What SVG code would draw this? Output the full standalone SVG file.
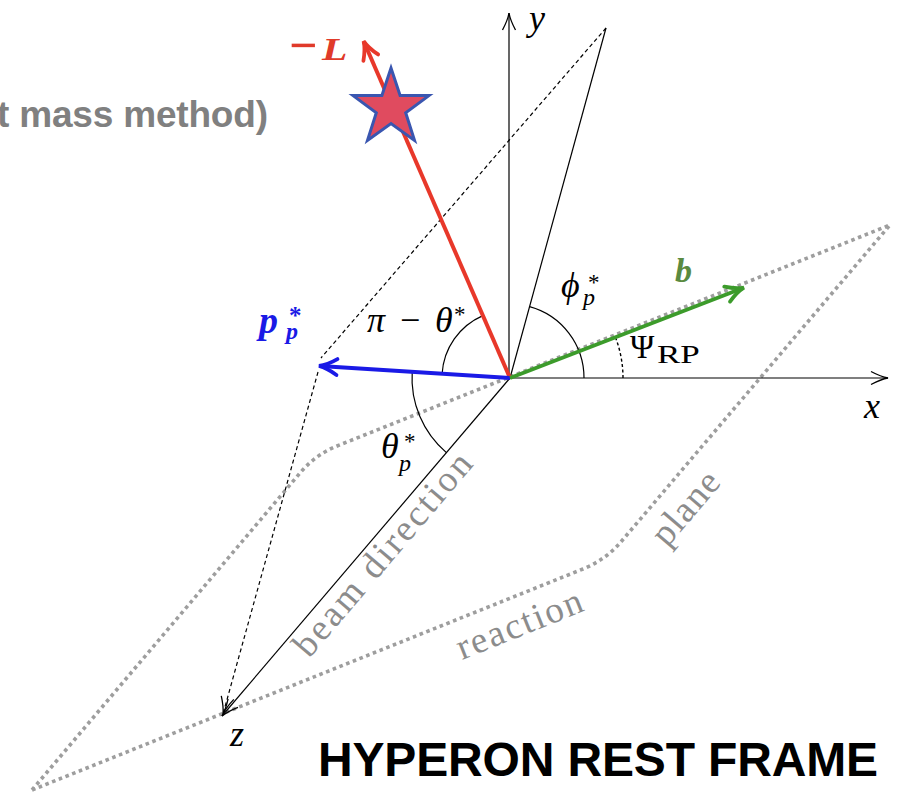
<svg xmlns="http://www.w3.org/2000/svg" width="907" height="795" viewBox="0 0 907 795">
<defs>
<style>
.plane{fill:none;stroke:#9e9e9e;stroke-width:3.6;stroke-dasharray:3.6 3.6}
.thin{fill:none;stroke:#000;stroke-width:1.2}
.dash{fill:none;stroke:#000;stroke-width:1.2;stroke-dasharray:4 3}
.math{font-family:"Liberation Serif","DejaVu Serif",serif;font-style:italic;fill:#000}
.rm{font-family:"Liberation Serif","DejaVu Serif",serif;fill:#000}
.gray{font-family:"Liberation Serif","DejaVu Serif",serif;fill:#8c8c8c;font-size:37px}
</style>
<marker id="ax" markerUnits="userSpaceOnUse" markerWidth="40" markerHeight="40" refX="0" refY="0" orient="auto" overflow="visible">
<path d="M-17,-6.5 Q-7,-1.2 0,0 Q-7,1.2 -17,6.5" fill="none" stroke="#000" stroke-width="1.3"/>
</marker>
<marker id="arR" markerUnits="userSpaceOnUse" markerWidth="40" markerHeight="40" refX="0" refY="0" orient="auto" overflow="visible">
<path d="M-17,-8 Q-7,-1.5 1,0 Q-7,1.5 -17,8" fill="none" stroke="#e8382a" stroke-width="3.8" stroke-linecap="round"/>
</marker>
<marker id="arB" markerUnits="userSpaceOnUse" markerWidth="40" markerHeight="40" refX="0" refY="0" orient="auto" overflow="visible">
<path d="M-17,-8 Q-7,-1.5 1,0 Q-7,1.5 -17,8" fill="none" stroke="#1a1ae6" stroke-width="3.8" stroke-linecap="round"/>
</marker>
<marker id="arG" markerUnits="userSpaceOnUse" markerWidth="40" markerHeight="40" refX="0" refY="0" orient="auto" overflow="visible">
<path d="M-17,-8 Q-7,-1.5 1,0 Q-7,1.5 -17,8" fill="none" stroke="#3c9b2b" stroke-width="3.8" stroke-linecap="round"/>
</marker>
</defs>
<rect width="907" height="795" fill="#fff"/>

<g id="title-fragment">
<text x="-3" y="127" font-family="Liberation Sans, Arial, sans-serif" font-weight="bold" font-size="37" fill="#808080" textLength="271">t mass method)</text>
</g>

<g id="reaction-plane">
<path class="plane" d="M32,790 L300,473 Q315,455 337,446 L890,225 L620,543 Q605,560 583,569 Z"/>
<text class="gray" transform="translate(462,660) rotate(-21.87)" textLength="133">reaction</text>
<text class="gray" transform="translate(667,548) rotate(-49.6)" textLength="85">plane</text>
</g>

<g id="connectors">
<line class="thin" x1="510" y1="378" x2="888" y2="378" marker-end="url(#ax)"/>
<line class="thin" x1="509" y1="378" x2="509" y2="13" marker-end="url(#ax)"/>
<line class="thin" x1="510" y1="378" x2="222" y2="716" marker-end="url(#ax)"/>
<line class="thin" x1="510" y1="378" x2="606" y2="28"/>
<line class="dash" x1="606" y1="28" x2="321" y2="358"/>
<line class="dash" x1="318" y1="372" x2="223" y2="714" marker-end="url(#ax)"/>
<path class="thin" d="M442.1,373.8 A68,68 0 0 1 482.9,315.6"/>
<path class="thin" d="M412.2,371.9 A98,98 0 0 0 446.4,452.6"/>
<path class="thin" d="M584,378 A74,74 0 0 0 529.6,306.6"/>
<path fill="none" stroke="#000" stroke-width="1.4" stroke-dasharray="3 2.5" d="M623,378 A113,113 0 0 0 615.4,337.2"/>
<line x1="510" y1="378" x2="364" y2="42" stroke="#e8382a" stroke-width="4" marker-end="url(#arR)"/>
<line x1="510" y1="378" x2="320" y2="366" stroke="#1a1ae6" stroke-width="4" marker-end="url(#arB)"/>
<line x1="510" y1="378" x2="743" y2="288" stroke="#3c9b2b" stroke-width="4" marker-end="url(#arG)"/>
</g>

<g id="star">
<path d="M391,68 L400.1,95.5 L429,95.6 L405.7,112.8 L414.5,140.4 L391,123.5 L367.5,140.4 L376.3,112.8 L353,95.6 L381.9,95.5 Z" fill="#e04b5f" stroke="#3a56b0" stroke-width="3" stroke-linejoin="miter"/>
</g>

<g id="labels">
<text class="math" x="529" y="30" font-size="36">y</text>
<text class="math" x="864" y="418" font-size="36">x</text>
<text class="math" x="230" y="746" font-size="36">z</text>
<text class="gray" transform="translate(309,659) rotate(-49.6)" textLength="255">beam direction</text>
<text x="289" y="62" font-family="Liberation Serif, serif" font-weight="bold" font-size="50" fill="#e03a2a">−</text>
<text font-family="Liberation Serif, serif" font-weight="bold" font-style="italic" font-size="32" fill="#e03a2a" transform="translate(322,60) scale(1.3,1)">L</text>
<text font-family="Liberation Serif, serif" font-weight="bold" font-style="italic" fill="#1a1ae6"><tspan x="259" y="333" font-size="38">p</tspan><tspan x="286" y="339" font-size="24">p</tspan><tspan x="289" y="324" font-size="25" font-style="normal">*</tspan></text>
<text font-family="Liberation Serif, serif" font-weight="bold" font-style="italic" fill="#5a8a40" x="675" y="282" font-size="34">b</text>
<text class="math" font-size="36"><tspan x="367" y="332">π</tspan><tspan x="400" y="332" font-style="normal">−</tspan><tspan x="435" y="332">θ</tspan><tspan x="454" y="322" font-size="23" font-style="normal">*</tspan></text>
<text class="math" font-size="36"><tspan x="381" y="458">θ</tspan><tspan x="404" y="449" font-size="23" font-style="normal">*</tspan><tspan x="399" y="471" font-size="24">p</tspan></text>
<text class="math" font-size="36"><tspan x="561" y="297">ϕ</tspan><tspan x="588" y="290" font-size="23" font-style="normal">*</tspan><tspan x="583" y="305" font-size="24">p</tspan></text>
<text class="rm" font-size="33" x="630" y="358">Ψ</text>
<text class="rm" font-size="25" transform="translate(657,363) scale(1.4,1)">RP</text>
</g>

<g id="caption">
<text x="318" y="776" font-family="Liberation Sans, Arial, sans-serif" font-weight="bold" font-size="48" fill="#000" textLength="560">HYPERON REST FRAME</text>
</g>
</svg>
